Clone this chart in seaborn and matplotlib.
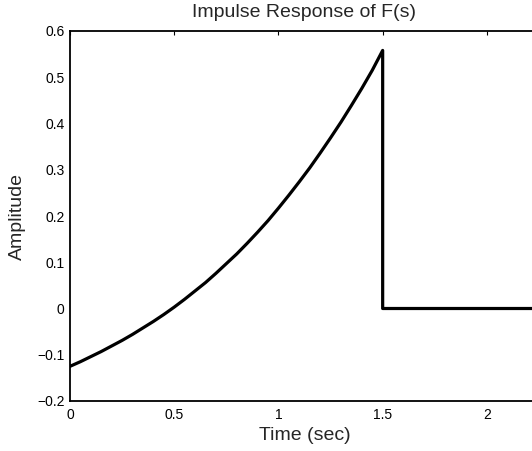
import numpy as np
import pandas as pd
import matplotlib
matplotlib.use("Agg")
import matplotlib.pyplot as plt
import seaborn as sns

# values (impulse response of F(s))
time_sec = [0.0, 0.05, 0.1, 0.15, 0.2, 0.25, 0.3, 0.35, 0.4, 0.45, 0.5,
            0.55, 0.6, 0.65, 0.7, 0.75, 0.8, 0.85, 0.9, 0.95, 1.0,
            1.05, 1.1, 1.15, 1.2, 1.25, 1.3, 1.35, 1.4, 1.45, 1.5,
            1.5, 1.75, 2.0, 2.25]
amplitude = [-0.125, -0.115, -0.104, -0.093, -0.081, -0.069, -0.056, -0.042,
             -0.028, -0.013, 0.003, 0.020, 0.038, 0.056, 0.076, 0.097,
             0.118, 0.141, 0.165, 0.190, 0.217, 0.245, 0.274, 0.304,
             0.336, 0.369, 0.403, 0.439, 0.476, 0.515, 0.558,
             0.0, 0.0, 0.0, 0.0]
x_ticks = [0, 0.5, 1, 1.5, 2]
x_ticklabels = ["0", "0.5", "1", "1.5", "2"]
y_ticks = [-0.2, -0.1, 0, 0.1, 0.2, 0.3, 0.4, 0.5, 0.6]
y_ticklabels = ["\u22120.2", "\u22120.1", "0", "0.1", "0.2", "0.3", "0.4", "0.5", "0.6"]

sns.set_style("white")
plt.rcParams['font.family'] = ['Liberation Sans', 'DejaVu Sans']

data = pd.DataFrame({"time": time_sec, "amp": amplitude})

fig = plt.figure(figsize=(5.32, 4.51), dpi=100)
# axes runs a little past the right edge of the picture, like the reference
ax = fig.add_axes([70/532, 50/451, 469/532, 370/451])

sns.lineplot(data=data, x="time", y="amp", sort=False, estimator=None,
             color="black", linewidth=2.3, ax=ax)

ax.set_xlim(0, 2.25)
ax.set_ylim(-0.2, 0.6)
ax.set_xticks(x_ticks)
ax.set_xticklabels(x_ticklabels)
ax.set_yticks(y_ticks)
ax.set_yticklabels(y_ticklabels)

for s in ax.spines.values():
    s.set_visible(True)
    s.set_color("black")
    s.set_linewidth(1.3)

ax.tick_params(direction="in", length=3, width=0.8, colors="black",
               labelsize=10, top=True, right=True, pad=4)
ax.tick_params(axis="x", pad=5)

ax.set_xlabel("Time (sec)", fontsize=14, labelpad=4)
ax.set_ylabel("Amplitude", fontsize=14, labelpad=8)
ax.set_title("Impulse Response of F(s)", fontsize=14, pad=10)

plt.savefig("out.png", dpi=100)
